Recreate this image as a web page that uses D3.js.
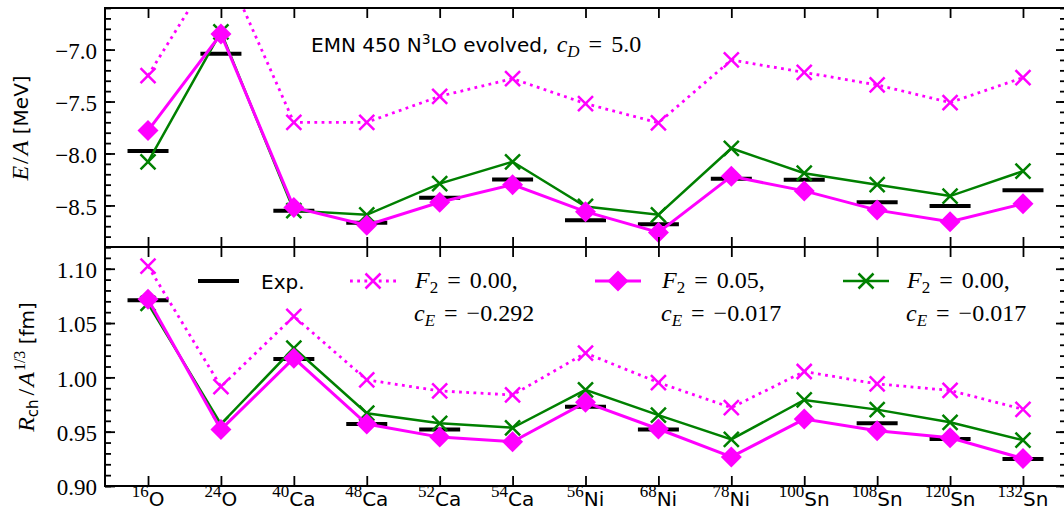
<!DOCTYPE html>
<html><head><meta charset="utf-8">
<script src="https://cdn.jsdelivr.net/npm/d3@7"></script>
<style>body{margin:0;background:#fff} text{white-space:pre}</style>
</head><body>
<script>
// ---------- data ----------
const masses   = [16, 24, 40, 48, 52, 54, 56, 68, 78, 100, 108, 120, 132];
const elements = ["O","O","Ca","Ca","Ca","Ca","Ni","Ni","Ni","Sn","Sn","Sn","Sn"];

// E/A [MeV]
const expEA        = [-7.976, -7.04, -8.551, -8.667, -8.426, -8.25, -8.643, -8.682, -8.243, -8.253, -8.469, -8.505, -8.355];
const eaF000cE0292 = [-7.25, -6.12, -7.70, -7.70, -7.45, -7.28, -7.52, -7.705, -7.10, -7.22, -7.34, -7.51, -7.27];
const eaF005cE0017 = [-7.78, -6.85, -8.52, -8.69, -8.47, -8.30, -8.56, -8.76, -8.22, -8.36, -8.545, -8.657, -8.484];
const eaF000cE0017 = [-8.08, -6.83, -8.55, -8.59, -8.29, -8.08, -8.51, -8.59, -7.95, -8.19, -8.30, -8.41, -8.17];

// R_ch / A^(1/3) [fm]
const expR        = [1.071, null, 1.017, 0.957, 0.952, null, 0.973, 0.952, null, null, 0.9577, 0.9432, 0.9249];
const rF000cE0292 = [1.1024, 0.9915, 1.0562, 0.9977, 0.9875, 0.9838, 1.0224, 0.9952, 0.9721, 1.0054, 0.994, 0.988, 0.9706];
const rF005cE0017 = [1.072, 0.952, 1.0177, 0.957, 0.945, 0.9407, 0.977, 0.9525, 0.9268, 0.9616, 0.9508, 0.9444, 0.9253];
const rF000cE0017 = [1.068, 0.957, 1.027, 0.967, 0.9577, 0.9536, 0.9885, 0.9653, 0.9429, 0.9792, 0.9703, 0.9586, 0.9422];

const topTicks   = [-8.5, -8.0, -7.5, -7.0];
const topMinor   = d3.range(-8.9, -6.55, 0.1).map(v => +v.toFixed(2));
const botTicks   = [0.90, 0.95, 1.00, 1.05, 1.10];
const botMinor   = d3.range(0.90, 1.1201, 0.01).map(v => +v.toFixed(3));

// ---------- setup ----------
const W = 1064, H = 512;
const SANS = "DejaVu Sans", SERIF = "Liberation Serif";
const MAG = "#ff00ff", GRN = "#008000";
const svg = d3.select("body").append("svg").attr("width", W).attr("height", H);

const L = 105, R = 1066;
const x = d3.scaleLinear().domain([-0.59, 12.59]).range([L, R]);
const idx = d3.range(masses.length);
const panels = [
  {y: d3.scaleLinear().domain([-8.9, -6.6]).range([247, 8]), top: 8, bot: 247, ticks: topTicks, minor: topMinor, fmt: d3.format(".1f"),
   exp: expEA, s1: eaF000cE0292, s2: eaF005cE0017, s3: eaF000cE0017},
  {y: d3.scaleLinear().domain([0.90, 1.12]).range([486, 247]), top: 247, bot: 486, ticks: botTicks, minor: botMinor, fmt: d3.format(".2f"),
   exp: expR, s1: rF000cE0292, s2: rF005cE0017, s3: rF000cE0017}
];

// rich text helper: parts {t, f, s, i, sh (up shift), dx}
function rich(sel, parts) {
  let cur = 0;
  parts.forEach(p => {
    const sh = p.sh || 0;
    const ts = sel.append("tspan").text(p.t)
      .attr("font-family", p.f).attr("font-size", p.s)
      .attr("font-style", p.i ? "italic" : "normal")
      .attr("dy", (cur - sh));
    if (p.dx) ts.attr("dx", p.dx);
    cur = sh;
  });
  return sel;
}

const xMark = "M-7.5,-7.5L7.5,7.5M-7.5,7.5L7.5,-7.5";
const dMark = "M0,-10.5L10.5,0L0,10.5L-10.5,0Z";

panels.forEach((P, pi) => {
  const y = P.y;
  const clipId = "clip" + pi;
  svg.append("clipPath").attr("id", clipId).append("rect")
    .attr("x", L).attr("y", P.top).attr("width", R - L).attr("height", P.bot - P.top);
  const g = svg.append("g").attr("clip-path", `url(#${clipId})`);

  // experiment bars
  g.selectAll(".exp").data(idx.filter(i => P.exp[i] != null)).enter().append("line")
    .attr("x1", i => x(i) - 20.5).attr("x2", i => x(i) + 20.5)
    .attr("y1", i => y(P.exp[i])).attr("y2", i => y(P.exp[i]))
    .attr("stroke", "#000").attr("stroke-width", 4);

  const line = d3.line().x((d, i) => x(i)).y(d => y(d));
  // dotted magenta
  g.append("path").attr("d", line(P.s1)).attr("fill", "none").attr("stroke", MAG)
    .attr("stroke-width", 2.8).attr("stroke-dasharray", "2.8,4.4");
  g.selectAll(".m1").data(P.s1).enter().append("path").attr("d", xMark)
    .attr("transform", (d, i) => `translate(${x(i)},${y(d)})`)
    .attr("stroke", MAG).attr("stroke-width", 2.5).attr("fill", "none");
  // green
  g.append("path").attr("d", line(P.s3)).attr("fill", "none").attr("stroke", GRN).attr("stroke-width", 2.5);
  g.selectAll(".m3").data(P.s3).enter().append("path").attr("d", xMark)
    .attr("transform", (d, i) => `translate(${x(i)},${y(d)})`)
    .attr("stroke", GRN).attr("stroke-width", 2.5).attr("fill", "none");
  // magenta diamonds
  g.append("path").attr("d", line(P.s2)).attr("fill", "none").attr("stroke", MAG).attr("stroke-width", 3);
  g.selectAll(".m2").data(P.s2).enter().append("path").attr("d", dMark)
    .attr("transform", (d, i) => `translate(${x(i)},${y(d)})`)
    .attr("fill", MAG);

  // axes
  const ax = svg.append("g");
  const left = ax.append("g").attr("transform", `translate(${L},0)`)
    .call(d3.axisLeft(y).tickValues(P.ticks).tickSize(-10).tickPadding(8).tickFormat(P.fmt));
  left.selectAll("text").attr("font-family", SERIF).attr("font-size", 23).attr("dy", "0.38em");
  ax.append("g").attr("transform", `translate(${L},0)`)
    .call(d3.axisLeft(y).tickValues(P.minor).tickSize(-6).tickFormat(""));
  ax.append("g").attr("transform", `translate(${R},0)`)
    .call(d3.axisRight(y).tickValues(P.ticks).tickSize(-10).tickFormat(""));
  ax.append("g").attr("transform", `translate(${R},0)`)
    .call(d3.axisRight(y).tickValues(P.minor).tickSize(-6).tickFormat(""));
  ax.append("g").attr("transform", `translate(0,${P.top})`)
    .call(d3.axisTop(x).tickValues(idx).tickSize(-10).tickFormat(""));
  ax.append("g").attr("transform", `translate(0,${P.bot})`)
    .call(d3.axisBottom(x).tickValues(idx).tickSize(-10).tickFormat(""));
  ax.selectAll(".domain").remove();
  ax.selectAll(".tick line").attr("stroke-width", 1.8);
  svg.append("rect").attr("x", L).attr("y", P.top).attr("width", R - L).attr("height", P.bot - P.top)
    .attr("fill", "none").attr("stroke", "#000").attr("stroke-width", 2);
});

// x labels
idx.forEach(i => {
  const t = svg.append("text").attr("x", x(i)).attr("y", 506).attr("text-anchor", "middle").attr("fill", "#000");
  rich(t, [{t: String(masses[i]), f: SERIF, s: 17, sh: 9}, {t: elements[i], f: SANS, s: 20}]);
});

// y labels
{
  const g = svg.append("g").attr("transform", "translate(28,128) rotate(-90)");
  const t = g.append("text").attr("text-anchor", "middle");
  rich(t, [{t: "E", f: SERIF, s: 24, i: true}, {t: "/", f: SERIF, s: 24, dx: 2}, {t: "A", f: SERIF, s: 24, i: true, dx: 2}, {t: " [MeV]", f: SANS, s: 20}]);
}
{
  const g = svg.append("g").attr("transform", "translate(34,367) rotate(-90)");
  const t = g.append("text").attr("text-anchor", "middle");
  rich(t, [{t: "R", f: SERIF, s: 24, i: true}, {t: "ch", f: SANS, s: 15, sh: -4},
           {t: "/", f: SERIF, s: 24, dx: 4}, {t: "A", f: SERIF, s: 24, i: true, dx: 2},
           {t: "1/3", f: SERIF, s: 16, sh: 9, dx: 1}, {t: " [fm]", f: SANS, s: 20}]);
}

// annotation
{
  const t = svg.append("text").attr("x", 311).attr("y", 52);
  rich(t, [{t: "EMN 450 N", f: SANS, s: 20}, {t: "3", f: SANS, s: 14, sh: 8}, {t: "LO evolved, ", f: SANS, s: 20},
           {t: "c", f: SERIF, s: 24, i: true, dx: 2}, {t: "D", f: SERIF, s: 17, i: true, sh: -5},
           {t: "=", f: SERIF, s: 24, dx: 9}, {t: "5.0", f: SERIF, s: 24, dx: 9}]);
}

// legend
{
  const ly = 281;
  svg.append("line").attr("x1", 198).attr("x2", 239).attr("y1", ly).attr("y2", ly).attr("stroke", "#000").attr("stroke-width", 4);
  svg.append("text").attr("x", 261).attr("y", 289).attr("font-family", SANS).attr("font-size", 20).text("Exp.");

  const entries = [
    {cx: 373, tx: 415, color: MAG, dash: "2.8,4.4", w: 2.8, mark: xMark, fill: false, F: "0.00,", cE: "−0.292"},
    {cx: 618, tx: 662, color: MAG, dash: null, w: 3, mark: dMark, fill: true, F: "0.05,", cE: "−0.017"},
    {cx: 866, tx: 907, color: GRN, dash: null, w: 2.5, mark: xMark, fill: false, F: "0.00,", cE: "−0.017"}
  ];
  entries.forEach(e => {
    const l = svg.append("line").attr("x1", e.cx - 23).attr("x2", e.cx + 23).attr("y1", ly).attr("y2", ly)
      .attr("stroke", e.color).attr("stroke-width", e.w);
    if (e.dash) l.attr("stroke-dasharray", e.dash);
    svg.append("path").attr("d", e.mark).attr("transform", `translate(${e.cx},${ly})`)
      .attr("fill", e.fill ? e.color : "none").attr("stroke", e.fill ? "none" : e.color).attr("stroke-width", 2.5);
    const t1 = svg.append("text").attr("x", e.tx).attr("y", 288);
    rich(t1, [{t: "F", f: SERIF, s: 24, i: true}, {t: "2", f: SERIF, s: 17, sh: -5},
              {t: "=", f: SERIF, s: 24, dx: 9}, {t: e.F, f: SERIF, s: 24, dx: 9}]);
    const t2 = svg.append("text").attr("x", e.tx - 1).attr("y", 321);
    rich(t2, [{t: "c", f: SERIF, s: 24, i: true}, {t: "E", f: SERIF, s: 17, i: true, sh: -5},
              {t: "=", f: SERIF, s: 24, dx: 9}, {t: e.cE, f: SERIF, s: 24, dx: 9}]);
  });
}
</script>
</body></html>
